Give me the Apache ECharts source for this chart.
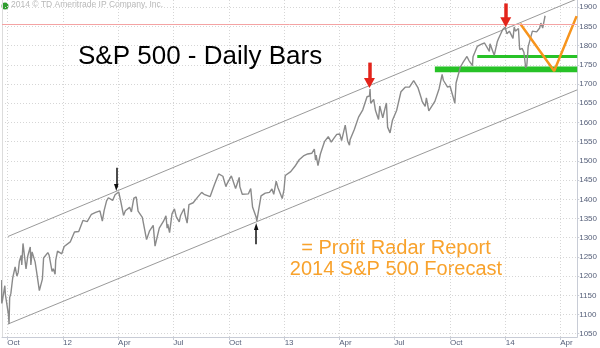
<!DOCTYPE html>
<html>
<head>
<meta charset="utf-8">
<script src="https://cdn.jsdelivr.net/npm/echarts@6/dist/echarts.min.js"></script>
<style>
  html, body { margin: 0; padding: 0; background: #ffffff; }
  #chart { width: 600px; height: 348px; }
</style>
</head>
<body>
<div id="chart"></div>
<script>
// S&P 500 daily path (sampled closes and swing extremes), by year
const sp2011 = [
  ['2011-09-21',1190],['2011-09-22',1129],['2011-09-23',1136],['2011-09-27',1175],['2011-09-28',1151],
  ['2011-09-30',1131],['2011-10-03',1099],['2011-10-04',1075],['2011-10-05',1144],['2011-10-07',1155],
  ['2011-10-10',1195],['2011-10-14',1224],['2011-10-17',1200],['2011-10-19',1209],['2011-10-21',1238],
  ['2011-10-24',1254],['2011-10-25',1229],['2011-10-27',1285],['2011-10-28',1285],['2011-11-01',1219],
  ['2011-11-04',1253],['2011-11-08',1276],['2011-11-09',1229],['2011-11-11',1263],['2011-11-16',1237],
  ['2011-11-18',1216],['2011-11-23',1162],['2011-11-25',1159],['2011-11-28',1192],['2011-11-30',1247],
  ['2011-12-02',1244],['2011-12-07',1261],['2011-12-09',1255],['2011-12-14',1212],['2011-12-16',1219],
  ['2011-12-19',1205],['2011-12-20',1241],['2011-12-23',1265],['2011-12-30',1258]
];
const sp2012 = [
  ['2012-01-03',1277],['2012-01-06',1278],['2012-01-13',1289],['2012-01-20',1315],['2012-01-27',1316],
  ['2012-02-03',1345],['2012-02-10',1342],['2012-02-17',1361],['2012-02-24',1366],['2012-03-02',1370],
  ['2012-03-06',1343],['2012-03-09',1371],['2012-03-13',1396],['2012-03-16',1404],['2012-03-23',1397],
  ['2012-03-27',1412],['2012-03-30',1408],['2012-04-02',1419],['2012-04-05',1398],['2012-04-10',1358],
  ['2012-04-13',1370],['2012-04-16',1370],['2012-04-20',1379],['2012-04-23',1367],['2012-04-27',1403],
  ['2012-05-01',1406],['2012-05-04',1369],['2012-05-11',1353],['2012-05-18',1295],['2012-05-23',1318],
  ['2012-05-25',1318],['2012-05-29',1332],['2012-06-01',1278],['2012-06-04',1278],['2012-06-08',1325],
  ['2012-06-15',1343],['2012-06-19',1357],['2012-06-21',1325],['2012-06-22',1335],['2012-06-25',1313],
  ['2012-06-29',1362],['2012-07-03',1375],['2012-07-06',1355],['2012-07-11',1341],['2012-07-13',1357],
  ['2012-07-19',1376],['2012-07-20',1363],['2012-07-24',1338],['2012-07-27',1386],['2012-08-03',1391],
  ['2012-08-10',1405],['2012-08-17',1418],['2012-08-21',1413],['2012-08-24',1411],['2012-08-31',1407],
  ['2012-09-07',1438],['2012-09-14',1466],['2012-09-21',1460],['2012-09-26',1433],['2012-09-28',1441],
  ['2012-10-05',1461],['2012-10-12',1428],['2012-10-18',1457],['2012-10-19',1433],['2012-10-23',1413],
  ['2012-10-26',1412],['2012-11-02',1414],['2012-11-06',1428],['2012-11-09',1380],['2012-11-15',1353],
  ['2012-11-16',1343],['2012-11-23',1409],['2012-11-30',1416],['2012-12-07',1418],['2012-12-11',1427],
  ['2012-12-14',1413],['2012-12-18',1447],['2012-12-21',1430],['2012-12-28',1402],['2012-12-31',1426]
];
const sp2013 = [
  ['2013-01-02',1462],['2013-01-04',1466],['2013-01-11',1472],['2013-01-18',1486],['2013-01-25',1503],
  ['2013-02-01',1513],['2013-02-08',1518],['2013-02-15',1520],['2013-02-19',1531],['2013-02-21',1502],
  ['2013-02-22',1515],['2013-02-25',1488],['2013-03-01',1518],['2013-03-08',1551],['2013-03-14',1563],
  ['2013-03-15',1561],['2013-03-19',1549],['2013-03-22',1556],['2013-03-28',1569],['2013-04-02',1570],
  ['2013-04-05',1553],['2013-04-11',1593],['2013-04-12',1588],['2013-04-15',1552],['2013-04-18',1541],
  ['2013-04-19',1555],['2013-04-26',1582],['2013-05-03',1614],['2013-05-10',1633],['2013-05-17',1667],
  ['2013-05-21',1669],['2013-05-22',1687],['2013-05-23',1650],['2013-05-24',1650],['2013-05-28',1660],
  ['2013-05-31',1631],['2013-06-05',1608],['2013-06-07',1643],['2013-06-12',1612],['2013-06-14',1626],
  ['2013-06-18',1651],['2013-06-20',1588],['2013-06-24',1573],['2013-06-28',1606],['2013-07-05',1632],
  ['2013-07-12',1680],['2013-07-19',1692],['2013-07-26',1692],['2013-08-02',1709],['2013-08-05',1707],
  ['2013-08-09',1691],['2013-08-15',1661],['2013-08-16',1655],['2013-08-21',1642],['2013-08-23',1664],
  ['2013-08-27',1630],['2013-08-30',1633],['2013-09-06',1655],['2013-09-13',1688],['2013-09-18',1725],
  ['2013-09-20',1710],['2013-09-27',1692],['2013-10-01',1695],['2013-10-04',1691],['2013-10-08',1656],
  ['2013-10-09',1650],['2013-10-11',1703],['2013-10-18',1744],['2013-10-22',1755],['2013-10-25',1759],
  ['2013-10-29',1772],['2013-11-01',1762],['2013-11-07',1748],['2013-11-08',1771],['2013-11-15',1798],
  ['2013-11-22',1804],['2013-11-27',1807],['2013-11-29',1806],['2013-12-05',1785],['2013-12-06',1805],
  ['2013-12-13',1775],['2013-12-18',1810],['2013-12-20',1818],['2013-12-27',1842],['2013-12-31',1848]
];
const sp2014 = [
  ['2014-01-03',1831],['2014-01-07',1838],['2014-01-10',1842],['2014-01-13',1819],['2014-01-15',1849],
  ['2014-01-17',1838],['2014-01-22',1845],['2014-01-24',1790],['2014-01-28',1793],['2014-01-31',1783],
  ['2014-02-03',1742],['2014-02-05',1752],['2014-02-07',1797],['2014-02-14',1838],['2014-02-21',1836],
  ['2014-02-26',1846],['2014-02-28',1859],['2014-03-03',1846],['2014-03-07',1878]
];

// Axis ticks
const quarterTicks = ['2011-10-01','2012-01-01','2012-04-01','2012-07-01','2012-10-01','2013-01-01',
                      '2013-04-01','2013-07-01','2013-10-01','2014-01-01','2014-04-01'];
const priceTicks = [1050,1100,1150,1200,1250,1300,1350,1400,1450,1500,1550,1600,1650,1700,1750,1800,1850,1900];

// Trend channel, resistance, support zones, forecast path
const upperChannel = [['2011-10-02',1303],['2014-04-29',1922]];
const lowerChannel = [['2011-10-02',1075],['2014-04-29',1685]];
const resistanceLevel = 1856;
const supportZones = [['2013-09-06',1731,1746],['2013-11-15',1768,1776]];
const forecastPath = [['2014-01-25',1857],['2014-03-22',1734],['2014-04-28',1877]];

// Arrows: [date, from, to]
const redArrows = [['2013-05-21',1756,1703],['2014-01-01',1910,1861]];
const blackArrows = [['2012-03-29',1482,1431],['2012-11-15',1283,1329],['2011-10-02',1036,1068]];

const ts = s => { const p = s.split('-').map(Number); return new Date(p[0], p[1]-1, p[2]).getTime(); };
const toPts = arr => arr.map(d => [ts(d[0]), d[1]]);
const xMin = ts('2011-09-22') + 8 * 3600e3;
const xMax = ts('2014-04-29');
const monthNames = ['Jan','Feb','Mar','Apr','May','Jun','Jul','Aug','Sep','Oct','Nov','Dec'];

const priceData = toPts([].concat(sp2011, sp2012, sp2013, sp2014));
const labelColor = '#56607a';
const gridLineStyle = { color: '#d6d6d6', type: [1, 2], width: 1 };

const arrowLines = list => list.map(a => [
  { coord: [ts(a[0]), a[1]] },
  { coord: [ts(a[0]), a[2]] }
]);

const chart = echarts.init(document.getElementById('chart'), null, { renderer: 'canvas' });
chart.setOption({
  animation: false,
  backgroundColor: '#ffffff',
  grid: { left: 2, right: 20, top: 0, bottom: 11, containLabel: false },
  title: {
    text: 'S&P 500 - Daily Bars',
    left: 73, top: 39,
    textStyle: { fontFamily: 'Liberation Sans', fontSize: 26, fontWeight: 'normal', color: '#000000' }
  },
  graphic: [
    { type: 'circle', shape: { cx: 5, cy: 6, r: 3.5 }, style: { fill: '#2e9e2e' } },
    { type: 'text', x: 11, y: 5, style: { text: '2014 \u00a9 TD Ameritrade IP Company, Inc.', font: '8.5px Liberation Sans', fill: '#b8b8b8', verticalAlign: 'middle' } },
    { type: 'text', x: 396, y: 238, style: {
        text: '= Profit Radar Report\n2014 S&P 500 Forecast',
        font: '20px Liberation Sans', fill: '#f8a22c', align: 'center', lineHeight: 21 } }
  ],
  xAxis: {
    type: 'value', min: xMin, max: xMax,
    axisLine: { show: true, lineStyle: { color: '#c8ccd6' } },
    axisTick: { show: true, length: 3, lineStyle: { color: '#c8ccd6' }, customValues: quarterTicks.map(ts) },
    axisLabel: {
      customValues: quarterTicks.map(ts),
      color: labelColor, fontSize: 8, fontFamily: 'Liberation Sans', align: 'left', margin: 2,
      formatter: v => { const d = new Date(v); return d.getMonth() === 0 ? String(d.getFullYear()).slice(2) : monthNames[d.getMonth()]; }
    },
    splitLine: { show: true, lineStyle: gridLineStyle }
  },
  yAxis: [{
    type: 'value', position: 'right', min: 1041.4, max: 1919,
    axisLine: { show: true, lineStyle: { color: '#c8ccd6' } },
    axisTick: { show: true, length: 2, lineStyle: { color: '#c8ccd6' }, customValues: priceTicks },
    axisLabel: { customValues: priceTicks, color: labelColor, fontSize: 8, fontFamily: 'Liberation Sans', margin: 2,
                 formatter: v => String(v) },
    splitLine: { show: true, lineStyle: gridLineStyle }
  }, {
    type: 'value', position: 'left', min: 1041.4, max: 1919,
    axisLine: { show: true, lineStyle: { color: '#dcdcdc' } },
    axisTick: { show: false }, axisLabel: { show: false }, splitLine: { show: false }
  }],
  series: [
    {
      name: 'zones', type: 'line', data: [], silent: true,
      markArea: {
        silent: true,
        itemStyle: { color: '#27c227', opacity: 1 },
        data: supportZones.map(z => [{ xAxis: ts(z[0]), yAxis: z[1] }, { xAxis: xMax, yAxis: z[2] }])
      },
      markLine: {
        silent: true, symbol: 'none', label: { show: false },
        lineStyle: { color: '#f4a3a3', width: 1, type: 'solid' },
        data: [{ yAxis: resistanceLevel }]
      }
    },
    {
      name: 'upper', type: 'line', data: toPts(upperChannel), showSymbol: false, silent: true,
      lineStyle: { color: '#9a9a9a', width: 1 }, clip: true
    },
    {
      name: 'lower', type: 'line', data: toPts(lowerChannel), showSymbol: false, silent: true,
      lineStyle: { color: '#9a9a9a', width: 1 }, clip: true
    },
    {
      name: 'S&P 500', type: 'line', data: priceData, showSymbol: false, silent: true,
      lineStyle: { color: '#8a8a8a', width: 1.4 }, clip: true
    },
    {
      name: 'forecast', type: 'line', data: toPts(forecastPath), showSymbol: false, silent: true,
      lineStyle: { color: '#f7941d', width: 2.5 }, clip: true
    },
    {
      name: 'red arrows', type: 'line', data: [], clip: false, silent: true,
      markLine: {
        silent: true, symbol: ['none', 'triangle'], symbolSize: [11, 10], label: { show: false },
        lineStyle: { color: '#e3241b', width: 3.5, type: 'solid' },
        data: arrowLines(redArrows)
      }
    },
    {
      name: 'black arrows', type: 'line', data: [], clip: false, silent: true,
      markLine: {
        silent: true, symbol: ['none', 'triangle'], symbolSize: [4.5, 7], label: { show: false },
        lineStyle: { color: '#111111', width: 1.5, type: 'solid' },
        data: arrowLines(blackArrows)
      }
    }
  ]
});
</script>
</body>
</html>
